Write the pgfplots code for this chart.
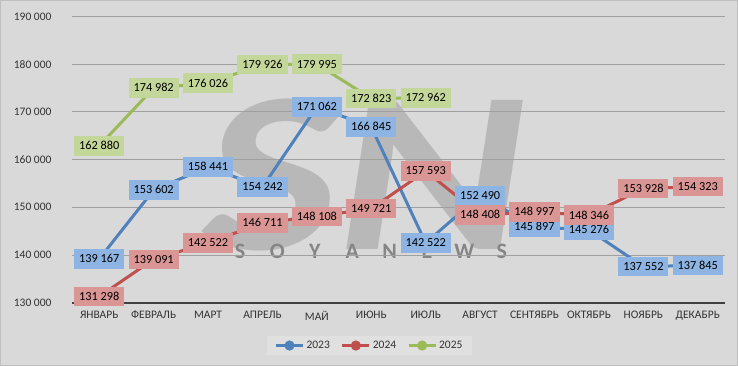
\documentclass[border=0pt]{standalone}
\usepackage{pgfplots}
\pgfplotsset{compat=1.18}
\usepackage{pgfplotstable}
\usepackage{fontspec}
\setmainfont{Carlito}
\definecolor{bgc}{HTML}{D9D9D9}
\definecolor{brd}{HTML}{BFBFBF}
\definecolor{gridc}{HTML}{A0A0A0}
\definecolor{axc}{HTML}{404040}
\definecolor{txt}{HTML}{333333}
\definecolor{cA}{HTML}{4F81BD}
\definecolor{cB}{HTML}{C0504D}
\definecolor{cC}{HTML}{9BBB59}
\definecolor{lA}{HTML}{8DB4E2}
\definecolor{lB}{HTML}{DA9694}
\definecolor{lC}{HTML}{C4D79B}
\definecolor{legbg}{HTML}{E0E0E0}
\definecolor{wm}{HTML}{B8B8B8}
\definecolor{wm2}{HTML}{858585}

\pgfplotstableread{
x y
0 139167
1 153602
2 158441
3 154242
4 171062
5 166845
6 142522
7 152490
8 145897
9 145276
10 137552
11 137845
}\tblA
\pgfplotstableread{
x y
0 131298
1 139091
2 142522
3 146711
4 148108
5 149721
6 157593
7 148408
8 148997
9 148346
10 153928
11 154323
}\tblB
\pgfplotstableread{
x y
0 162880
1 174982
2 176026
3 179926
4 179995
5 172823
6 172962
}\tblC

\begin{document}
\begin{tikzpicture}
% background
\fill[bgc] (-72pt,-63.3pt) rectangle (666pt,302.7pt);
\draw[brd, line width=1pt] (-71.5pt,-62.8pt) rectangle (665.5pt,302.2pt);
% watermark
\node[wm, font=\fontsize{230}{230}\selectfont\bfseries\itshape, xscale=1.25] at (293pt,128pt) {SN};
\foreach \l [count=\i] in {S,O,Y,A,N,E,W,S}
  \node[wm2, font=\fontsize{22}{22}\selectfont\bfseries] at ({168pt+(\i-1)*37.4pt},51.7pt) {\l};
\begin{axis}[
  at={(0,0)}, anchor=south west,
  scale only axis, width=653pt, height=286.2pt,
  xmin=-0.5, xmax=11.5, ymin=130000, ymax=190000,
  clip=false,
  scaled y ticks=false,
  axis line style={draw=none},
  tick style={draw=none},
  xtick={0,...,11},
  xticklabels={ЯНВАРЬ,ФЕВРАЛЬ,МАРТ,АПРЕЛЬ,МАЙ,ИЮНЬ,ИЮЛЬ,АВГУСТ,СЕНТЯБРЬ,ОКТЯБРЬ,НОЯБРЬ,ДЕКАБРЬ},
  ytick={130000,140000,150000,160000,170000,180000,190000},
  yticklabels={130 000,140 000,150 000,160 000,170 000,180 000,190 000},
  xticklabel style={font=\fontsize{11.5}{13}\selectfont, text=txt, yshift=-5pt},
  yticklabel style={font=\fontsize{11.5}{13}\selectfont, text=txt, xshift=-17pt},
  ymajorgrids,
  grid style={gridc, line width=0.8pt},
  legend style={at={(0.4556,-0.1497)}, anchor=center, draw=none, fill=legbg,
    legend columns=3, font=\fontsize{11.5}{13}\selectfont, text=txt,
    /tikz/every even column/.append style={column sep=9pt},
    inner xsep=8pt, inner ysep=3pt},
  legend image code/.code={\draw[mark repeat=2,mark phase=2,#1] plot coordinates {(0pt,0pt) (13.5pt,0pt) (27pt,0pt)};},
]
\draw[axc, line width=2.2pt] (axis cs:-0.5,130000) -- (axis cs:11.5,130000);
\pgfplotsset{
  lbl/.style={forget plot, draw=none, mark=none, point meta=y,
    nodes near coords={\pgfmathprintnumber[fixed, precision=0, 1000 sep={\ }, assume math mode=true]{\pgfplotspointmeta}},
    every node near coord/.append style={anchor=center, fill=#1, text=black,
      font=\fontsize{12.3}{13}\selectfont, inner xsep=5pt, inner ysep=5.9pt,
      text height=7.7pt, text depth=0pt}},
  ln/.style={forget plot, #1, line width=3pt, mark=*, mark size=7.5pt, mark options={fill=#1, draw=#1, line width=0pt}},
}
\addplot[ln=cA] table {\tblA};
\addplot[ln=cB] table {\tblB};
\addplot[ln=cC] table {\tblC};
\addplot[lbl=lA] table {\tblA};
\addplot[lbl=lB] table {\tblB};
\addplot[lbl=lC] table {\tblC};
\addlegendimage{cA, line width=3pt, mark=*, mark size=3.5pt}
\addlegendentry{2023}
\addlegendimage{cB, line width=3pt, mark=*, mark size=3.5pt}
\addlegendentry{2024}
\addlegendimage{cC, line width=3pt, mark=*, mark size=3.5pt}
\addlegendentry{2025}
\end{axis}
\end{tikzpicture}
\end{document}
